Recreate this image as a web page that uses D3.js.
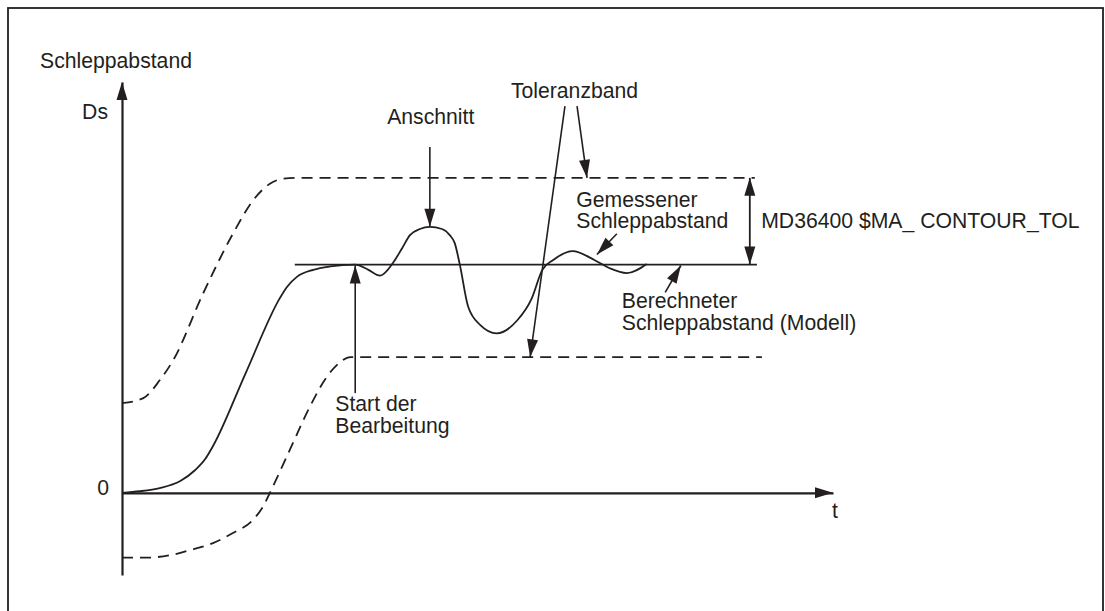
<!DOCTYPE html>
<meta charset="utf-8">
<style>
body { margin: 0; background: #fff; }
text { font-family: "Liberation Sans", Arial, sans-serif; font-size: 21.2px; fill: #231f20; }
.curve { fill: none; stroke: #231f20; stroke-width: 1.8; }
.band { fill: none; stroke: #231f20; stroke-width: 1.8; stroke-dasharray: 11,7; }
.axis path { stroke: #231f20; stroke-width: 2.2; }
</style>
<svg width="1105" height="611"></svg>
<script src="https://d3js.org/d3.v7.min.js"></script>
<script>

// curves, [t, Ds] in arbitrary units (calculated model level = 100)
var measured = [[0,0],[2.5,0.7],[5.3,2.1],[8.2,5.2],[10.3,10.0],[11.7,14.8],[12.8,20.5],
  [17.4,52.5],[22.2,85.3],[23.2,90.2],[24.6,94.6],[26.9,97.7],[29.3,99.2],[32.8,100],[34.6,97.8],
  [36.3,95.2],[38.1,100.7],[39.4,107.2],[40.5,112.9],[41.9,115.6],[43.3,116.5],[45.0,115.6],
  [46.1,112.9],[46.8,109.4],[47.5,100.2],[48.7,81.4],[50.4,73.5],[52.7,69.9],[55.6,75.6],
  [57.6,85.0],[59.1,97.6],[60.6,101.9],[63.4,105.9],[66.5,101.9],[68.6,98.4],[71.0,96.3],
  [73.8,100.3]];
var model = [[24.3,100],[89.3,100]];
var upperBand = [[0,39.3],[3.0,41.5],[5.3,49.3],[7.2,58.1],[11.4,87.3],[15.6,113.5],
  [18.4,128.0],[20.8,135.4],[22.6,137.6],[25.0,138.0],[89.0,138.0]];
var lowerBand = [[0,-28.4],[3.5,-28.4],[6.8,-27.3],[9.6,-25.1],[12.8,-22.0],[15.6,-17.6],
  [18.4,-11.9],[19.8,-6.2],[20.8,0],[23.6,18.8],[26.4,37.6],[28.8,50.8],[30.7,57.3],
  [32.1,59.5],[90.0,59.5]];

// axis texts
var yTitle = "Schleppabstand";
var yLabel = "Ds";
var xLabel = "t";

// annotations: label lines, anchor [t, Ds]
var labels = [
  {lines: ["Anschnitt"], at: [37.3, 161.6]},
  {lines: ["Toleranzband"], at: [54.7, 172.9]},
  {lines: ["Gemessener", "Schleppabstand"], at: [63.9, 125.3]},
  {lines: ["MD36400 $MA_ CONTOUR_TOL"], at: [89.9, 116.2]},
  {lines: ["Berechneter", "Schleppabstand (Modell)"], at: [70.3, 80.8]},
  {lines: ["Start der", "Bearbeitung"], at: [30.0, 35.8]}
];
var arrows = [
  {from: [43.3, 151.5], to: [43.3, 116.6]},
  {from: [62.3, 169.4], to: [57.4, 59.4]},
  {from: [64.0, 169.4], to: [65.4, 138.0]},
  {from: [69.6, 113.5], to: [66.8, 104.4]},
  {from: [76.4, 87.8], to: [78.6, 99.6]},
  {from: [32.8, 43.7], to: [32.8, 99.6]}
];
var tolerance = {t: 88.3, from: 100, to: 138};

var svg = d3.select("svg");
var ink = "#231f20";

var x = d3.scaleLinear().domain([0, 100]).range([122, 833]);
var y = d3.scaleLinear().domain([-36, 180]).range([575, 82]);

// frame
svg.append("rect")
    .attr("x", 8).attr("y", 8)
    .attr("width", 1095).attr("height", 700)
    .attr("fill", "none").attr("stroke", ink).attr("stroke-width", 1.8);

function head(x1, y1, x2, y2) {
  var a = Math.atan2(y2 - y1, x2 - x1), L = 18, w = 5.5;
  var bx = x2 - L * Math.cos(a), by = y2 - L * Math.sin(a);
  return [[x2, y2],
          [bx + w * Math.sin(a), by - w * Math.cos(a)],
          [bx - w * Math.sin(a), by + w * Math.cos(a)]].join(" ");
}

// axes
var yAxis = svg.append("g").attr("class", "axis")
    .attr("transform", "translate(" + x(0) + ",0)")
    .call(d3.axisLeft(y).tickValues([0]).tickSize(0).tickSizeOuter(0).tickPadding(13));
svg.append("g").attr("class", "axis")
    .attr("transform", "translate(0," + y(0) + ")")
    .call(d3.axisBottom(x).tickValues([]).tickSize(0).tickSizeOuter(0));
yAxis.selectAll(".tick text")
    .attr("dy", "0.1em")
    .style("font-size", "21.2px")
    .style("font-family", "'Liberation Sans', Arial, sans-serif")
    .attr("fill", ink);

svg.append("polygon").attr("fill", ink)
    .attr("points", head(x(0), y(0), x(0), y(180)));
svg.append("polygon").attr("fill", ink)
    .attr("points", head(x(0), y(0), x(100), y(0)));

svg.append("text").attr("x", 40).attr("y", 68).text(yTitle);
svg.append("text").attr("x", x(0) - 14).attr("y", 119)
    .attr("text-anchor", "end").text(yLabel);
svg.append("text").attr("x", x(100) - 1).attr("y", y(0) + 25).text(xLabel);

// curves
var line = d3.line()
    .x(function(d) { return x(d[0]); })
    .y(function(d) { return y(d[1]); })
    .curve(d3.curveMonotoneX);

svg.append("path").datum(upperBand).attr("class", "band").attr("d", line);
svg.append("path").datum(lowerBand).attr("class", "band").attr("d", line);
svg.append("path").datum(model).attr("class", "curve").attr("d", line.curve(d3.curveLinear));
svg.append("path").datum(measured).attr("class", "curve").attr("d", line.curve(d3.curveMonotoneX));

// annotation arrows
arrows.forEach(function(a) {
  var x1 = x(a.from[0]), y1 = y(a.from[1]), x2 = x(a.to[0]), y2 = y(a.to[1]);
  svg.append("line")
      .attr("x1", x1).attr("y1", y1).attr("x2", x2).attr("y2", y2)
      .attr("stroke", ink).attr("stroke-width", 1.6);
  svg.append("polygon").attr("fill", ink).attr("points", head(x1, y1, x2, y2));
});

var tx = x(tolerance.t);
svg.append("line")
    .attr("x1", tx).attr("x2", tx)
    .attr("y1", y(tolerance.from)).attr("y2", y(tolerance.to))
    .attr("stroke", ink).attr("stroke-width", 1.8);
svg.append("polygon").attr("fill", ink)
    .attr("points", head(tx, y(tolerance.from), tx, y(tolerance.to)));
svg.append("polygon").attr("fill", ink)
    .attr("points", head(tx, y(tolerance.to), tx, y(tolerance.from)));

// labels
labels.forEach(function(l) {
  var t = svg.append("text").attr("x", x(l.at[0])).attr("y", y(l.at[1]));
  l.lines.forEach(function(s, i) {
    t.append("tspan").attr("x", x(l.at[0])).attr("dy", i ? 21.5 : 0).text(s);
  });
});

</script>
